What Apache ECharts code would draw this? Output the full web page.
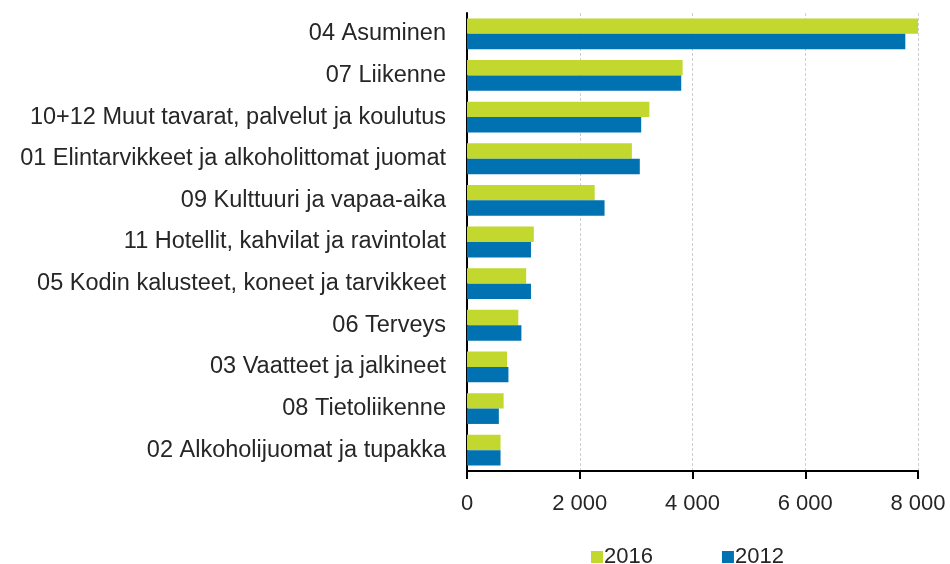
<!DOCTYPE html>
<html>
<head>
<meta charset="utf-8">
<script src="https://cdn.jsdelivr.net/npm/echarts@6/dist/echarts.min.js"></script>
<style>
  html, body { margin: 0; padding: 0; background: #fff; }
  #chart { width: 950px; height: 564px; }
</style>
</head>
<body>
<div id="chart"></div>
<script>
const categories = [
  '04 Asuminen',
  '07 Liikenne',
  '10+12 Muut tavarat, palvelut ja koulutus',
  '01 Elintarvikkeet ja alkoholittomat juomat',
  '09 Kulttuuri ja vapaa-aika',
  '11 Hotellit, kahvilat ja ravintolat',
  '05 Kodin kalusteet, koneet ja tarvikkeet',
  '06 Terveys',
  '03 Vaatteet ja jalkineet',
  '08 Tietoliikenne',
  '02 Alkoholijuomat ja tupakka'
]
const values2016 = [8030, 3825, 3235, 2925, 2265, 1185, 1050, 910, 710, 650, 595]
const values2012 = [7775, 3800, 3090, 3065, 2440, 1135, 1135, 965, 735, 565, 595]
const xTicks = { min: 0, max: 8000, interval: 2000 }

const chart = echarts.init(document.getElementById('chart'))

const fmt = v => String(v).replace(/\B(?=(\d{3})+(?!\d))/g, ' ')
const textColor = '#262626'
const font = 'Liberation Sans, Arial, sans-serif'

const option = {
  animation: false,
  textStyle: { fontFamily: font },
  legend: {
    data: ['2016', '2012'],
    top: 541,
    left: 586,
    itemWidth: 12,
    itemHeight: 12,
    itemGap: 69,
    icon: 'rect',
    textStyle: { color: textColor, fontSize: 22, fontFamily: font, padding: [0, 0, 0, -4] }
  },
  grid: {
    left: 467,
    right: 32,
    top: 13,
    bottom: 93
  },
  xAxis: {
    type: 'value',
    min: xTicks.min,
    max: xTicks.max,
    interval: xTicks.interval,
    axisLine: { show: true, lineStyle: { color: '#000', width: 2 } },
    axisTick: { show: true, length: 8, lineStyle: { color: '#000', width: 2 } },
    axisLabel: { color: textColor, fontSize: 22, margin: 22, formatter: fmt, fontFamily: font },
    splitLine: { show: true, lineStyle: { color: '#cfcfcf', type: [3, 2], width: 1 } }
  },
  yAxis: {
    type: 'category',
    inverse: true,
    data: categories,
    axisLine: { show: true, lineStyle: { color: '#000', width: 2 } },
    axisTick: { show: false },
    axisLabel: { color: textColor, fontSize: 23.5, margin: 21, fontFamily: font }
  },
  series: [
    {
      name: '2016',
      type: 'bar',
      data: values2016,
      barGap: '0%',
      barCategoryGap: '26%',
      itemStyle: { color: '#c2d82f' }
    },
    {
      name: '2012',
      type: 'bar',
      data: values2012,
      barGap: '0%',
      barCategoryGap: '26%',
      itemStyle: { color: '#0072b1' }
    }
  ]
}

chart.setOption(option)
</script>
</body>
</html>
